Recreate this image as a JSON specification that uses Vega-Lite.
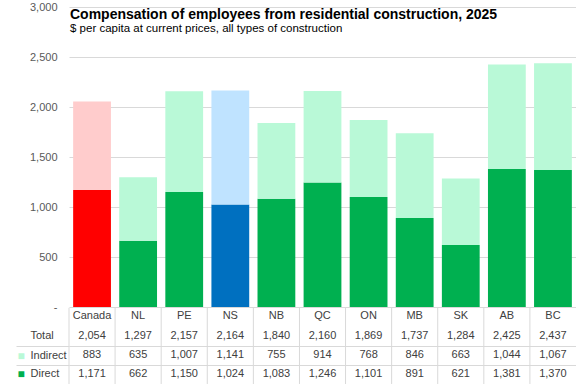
{
  "$schema": "https://vega.github.io/schema/vega-lite/v6.json",
  "width": 507,
  "height": 377,
  "autosize": "none",
  "padding": {"left": 69, "top": 7, "right": 0, "bottom": 0},
  "background": "white",
  "config": {
    "view": {"stroke": null},
    "font": "Liberation Sans",
    "text": {"font": "Liberation Sans", "fontSize": 11, "color": "#404040"}
  },
  "title": {
    "text": "Compensation of employees from residential construction, 2025",
    "subtitle": "$ per capita at current prices, all types of construction",
    "anchor": "start",
    "frame": "group",
    "orient": "top",
    "offset": -33,
    "dx": 1,
    "font": "Liberation Sans",
    "fontSize": 14,
    "fontWeight": "bold",
    "color": "#000000",
    "subtitleFont": "Liberation Sans",
    "subtitleFontSize": 11.5,
    "subtitleColor": "#000000",
    "subtitlePadding": 1
  },
  "data": {
    "values": [
      {"region": "Canada", "direct": 1171, "indirect": 883, "total": 2054},
      {"region": "NL", "direct": 662, "indirect": 635, "total": 1297},
      {"region": "PE", "direct": 1150, "indirect": 1007, "total": 2157},
      {"region": "NS", "direct": 1024, "indirect": 1141, "total": 2164},
      {"region": "NB", "direct": 1083, "indirect": 755, "total": 1840},
      {"region": "QC", "direct": 1246, "indirect": 914, "total": 2160},
      {"region": "ON", "direct": 1101, "indirect": 768, "total": 1869},
      {"region": "MB", "direct": 891, "indirect": 846, "total": 1737},
      {"region": "SK", "direct": 621, "indirect": 663, "total": 1284},
      {"region": "AB", "direct": 1381, "indirect": 1044, "total": 2425},
      {"region": "BC", "direct": 1370, "indirect": 1067, "total": 2437}
    ]
  },
  "encoding": {
    "x": {
      "field": "region",
      "type": "nominal",
      "sort": null,
      "scale": {"paddingInner": 0, "paddingOuter": 0},
      "axis": null
    }
  },
  "layer": [
    {
      "mark": {"type": "bar", "width": {"band": 0.82}},
      "encoding": {
        "y": {
          "field": "direct",
          "type": "quantitative",
          "scale": {"domain": [-770, 3000], "nice": false, "zero": false},
          "axis": {
            "title": null,
            "domain": false,
            "tickCount": 100,
            "values": [0, 500, 1000, 1500, 2000, 2500, 3000, -285, -390, -480, -481, -580, -665, -666],
            "labelExpr": "datum.value == 0 ? '-' : datum.value > 0 ? format(datum.value, ',') : datum.value == -285 ? 'Total' : datum.value == -480 ? 'Indirect' : datum.value == -665 ? 'Direct' : (datum.value == -481 || datum.value == -666) ? '■' : ''",
            "labelOverlap": false,
            "labelBound": false,
            "labelFlush": false,
            "labelFont": "Liberation Sans",
            "labelFontSize": {"condition": {"test": "datum.value == -481 || datum.value == -666", "value": 12}, "value": 11},
            "labelColor": {"condition": [
              {"test": "datum.value == -481", "value": "#B9F9D7"},
              {"test": "datum.value == -666", "value": "#00B050"},
              {"test": "datum.value < 0", "value": "#404040"}
            ], "value": "#595959"},
            "labelAlign": {"condition": {"test": "datum.value < 0", "value": "left"}, "value": "right"},
            "labelPadding": {"condition": [
              {"test": "datum.value == -481 || datum.value == -666", "value": -1},
              {"test": "datum.value < 0", "value": -14}
            ], "value": -41},
            "ticks": true,
            "tickSize": 53,
            "tickColor": "#D9D9D9",
            "tickOpacity": {"condition": {"test": "datum.value == -390 || datum.value == -580", "value": 1}, "value": 0},
            "grid": true,
            "gridColor": "#D9D9D9",
            "gridOpacity": {"condition": {"test": "datum.value >= 0 || datum.value == -390 || datum.value == -580", "value": 1}, "value": 0}
          }
        },
        "color": {
          "condition": [
            {"test": "datum.region == 'Canada'", "value": "#FF0000"},
            {"test": "datum.region == 'NS'", "value": "#0070C0"}
          ],
          "value": "#00B050"
        }
      }
    },
    {
      "mark": {"type": "bar", "width": {"band": 0.82}},
      "encoding": {
        "y": {"field": "direct", "type": "quantitative"},
        "y2": {"field": "total"},
        "color": {
          "condition": [
            {"test": "datum.region == 'Canada'", "value": "#FFCCCC"},
            {"test": "datum.region == 'NS'", "value": "#BFE3FF"}
          ],
          "value": "#B9F9D7"
        }
      }
    },
    {
      "mark": {"type": "rule", "color": "#D9D9D9", "strokeWidth": 1},
      "encoding": {
        "x": {"field": "region", "type": "nominal", "sort": null, "bandPosition": 0},
        "y": {"datum": -8},
        "y2": {"datum": -770}
      }
    },
    {
      "mark": {"type": "text", "fontSize": 11, "color": "#404040"},
      "encoding": {
        "y": {"datum": -90},
        "text": {"field": "region"}
      }
    },
    {
      "mark": {"type": "text", "fontSize": 11, "color": "#404040"},
      "encoding": {
        "y": {"datum": -285},
        "text": {"field": "total", "format": ","}
      }
    },
    {
      "mark": {"type": "text", "fontSize": 11, "color": "#404040"},
      "encoding": {
        "y": {"datum": -480},
        "text": {"field": "indirect", "format": ","}
      }
    },
    {
      "mark": {"type": "text", "fontSize": 11, "color": "#404040"},
      "encoding": {
        "y": {"datum": -665},
        "text": {"field": "direct", "format": ","}
      }
    }
  ]
}
